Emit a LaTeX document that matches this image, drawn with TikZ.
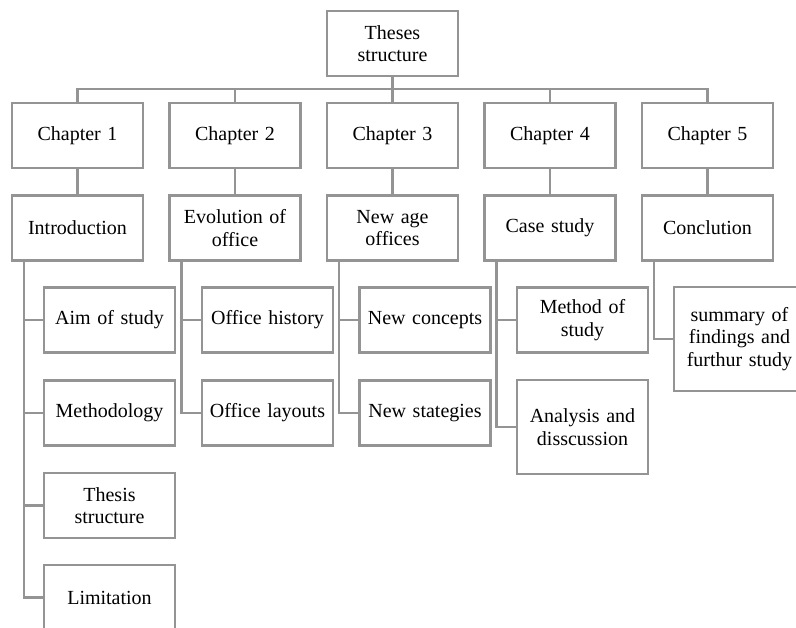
\documentclass[tikz,border=0pt]{standalone}
\usepackage{fontspec}
\setmainfont{Liberation Serif}
\usetikzlibrary{calc}
\tikzset{
  box/.style={draw=black!42, line width=2.3pt, fill=white, minimum width=131pt, minimum height=65pt,
    inner sep=2pt, align=center, font=\fontsize{20}{22.5}\selectfont,
    execute at begin node={\spaceskip=0.33em plus 0.1em\relax}},
  link/.style={draw=black!42, line width=2.3pt},
}
\begin{document}
\begin{tikzpicture}[x=1pt,y=-1pt]
\useasboundingbox (0,0) rectangle (796,628);
\clip (0,0) rectangle (796,628);
\node[box] (top) at (392.5,43.5) {Theses\\structure};
\node[box] (ch1) at (77.5,135.5) {Chapter 1};
\node[box] (ch2) at (235,135.5) {Chapter 2};
\node[box] (ch3) at (392.5,135.5) {Chapter 3};
\node[box] (ch4) at (550,135.5) {Chapter 4};
\node[box] (ch5) at (707.5,135.5) {Chapter 5};
\node[box] (intro) at (77.5,228) {Introduction};
\node[box] (evo) at (235,228) {Evolution of\\office};
\node[box] (newage) at (392.5,228) {New age\\offices};
\node[box] (case) at (550,228) {Case study};
\node[box] (concl) at (707.5,228) {Conclution};
\node[box] (aim) at (109.5,320) {Aim of study};
\node[box] (meth) at (109.5,413) {Methodology};
\node[box] (thesis) at (109.5,505.5) {Thesis\\structure};
\node[box] (limit) at (109.5,597.5) {Limitation};
\node[box] (ohist) at (267.5,320) {Office history};
\node[box] (olay) at (267.5,413) {Office layouts};
\node[box] (ncon) at (425,320) {New concepts};
\node[box] (nstr) at (425,413) {New stategies};
\node[box] (mstudy) at (582.5,320) {Method of\\study};
\node[box, minimum height=94pt] (anal) at (582.5,427) {Analysis and\\disscussion};
\node[box, minimum height=104pt] (summ) at (739.5,339) {summary of\\findings and\\furthur study};
\coordinate (bus) at (392.5,89);
\path[link] (top.south) -- (ch3.north);
\path[link] (ch1.north) |- (bus) -| (ch5.north);
\path[link] (ch2.north) -- (ch2.north |- bus);
\path[link] (ch4.north) -- (ch4.north |- bus);
\foreach \a/\b in {ch1/intro,ch2/evo,ch3/newage,ch4/case,ch5/concl}{
  \path[link] (\a.south) -- (\b.north);
}
\foreach \p/\c in {intro/aim,intro/meth,intro/thesis,intro/limit,evo/ohist,evo/olay,newage/ncon,newage/nstr,case/mstudy,case/anal,concl/summ}{
  \path[link] ([xshift=13pt]\p.south west) |- (\c.west);
}
\end{tikzpicture}
\end{document}
